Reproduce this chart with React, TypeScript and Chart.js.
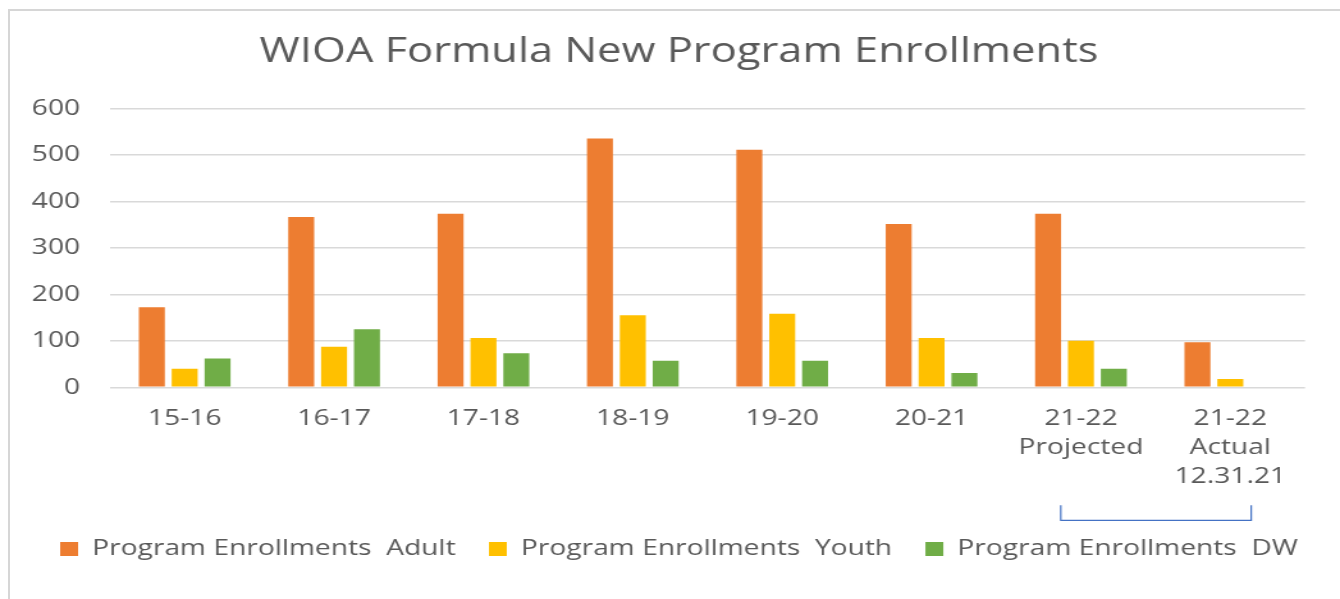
import React, { useEffect, useRef } from "react";
import { Chart, registerables } from "chart.js";

Chart.register(...registerables);

const categories: (string | string[])[] = [
  "15-16",
  "16-17",
  "17-18",
  "18-19",
  "19-20",
  "20-21",
  ["21-22", "Projected"],
  ["21-22", "Actual", "12.31.21"],
];
const adult: (number | null)[] = [172, 366, 373, 535, 511, 351, 373, 97];
const youth: (number | null)[] = [40, 87, 106, 155, 158, 106, 100, 18];
const dw: (number | null)[] = [62, 125, 73, 57, 57, 31, 40, null];
const seriesNames = [
  "Program Enrollments  Adult",
  "Program Enrollments  Youth",
  "Program Enrollments  DW",
];
const colors = ["#ED7D31", "#FFC000", "#70AD47"];
const yTicks = [0, 100, 200, 300, 400, 500, 600];

const PAGE_W = 1340;
const PAGE_H = 599;
const STRETCH = 1.28;
const CW = Math.round(PAGE_W / STRETCH);
const SX = PAGE_W / CW;
const TEXT = "#595959";
const FONT = "'Open Sans', 'Noto Sans', sans-serif";

const bracketPlugin = {
  id: "bracket",
  afterDraw(chart: any) {
    const x = chart.scales.x;
    const area = chart.chartArea;
    const catW = (x.right - x.left) / categories.length;
    const x1 = x.getPixelForValue(6) - 0.135 * catW;
    const x2 = x.getPixelForValue(7) + 0.14 * catW;
    const yTop = area.bottom + 118;
    const yBot = area.bottom + 133;
    const ctx = chart.ctx;
    ctx.save();
    ctx.strokeStyle = "#4472C4";
    ctx.lineWidth = 1.2;
    ctx.beginPath();
    ctx.moveTo(x1, yTop);
    ctx.lineTo(x1, yBot);
    ctx.lineTo(x2, yBot);
    ctx.lineTo(x2, yTop);
    ctx.stroke();
    ctx.restore();
  },
};

export default function App() {
  const ref = useRef<HTMLCanvasElement>(null);
  useEffect(() => {
    if (!ref.current) return;
    const data = [adult, youth, dw];
    const chart = new Chart(ref.current, {
      type: "bar",
      data: {
        labels: categories,
        datasets: data.map((d, i) => ({
          label: seriesNames[i],
          data: d,
          backgroundColor: colors[i],
          borderWidth: 0,
          categoryPercentage: 0.66,
          barPercentage: 0.79,
        })),
      },
      options: {
        animation: false,
        responsive: false,
        maintainAspectRatio: false,
        devicePixelRatio: 1,
        layout: { padding: { left: 18 / SX, right: 0, top: 0, bottom: 29 } },
        plugins: {
          title: {
            display: true,
            text: "WIOA Formula New Program Enrollments",
            color: TEXT,
            font: { family: FONT, size: 34, weight: "normal", lineHeight: 1.2 },
            padding: { top: 32, bottom: 35.5 },
          },
          legend: {
            position: "bottom",
            labels: {
              color: TEXT,
              font: { family: FONT, size: 22 },
              boxWidth: 14,
              boxHeight: 14,
              padding: 26,
            },
          },
          tooltip: { enabled: false },
        },
        scales: {
          x: {
            grid: { display: false, drawTicks: false },
            border: { display: false },
            ticks: {
              color: TEXT,
              font: { family: FONT, size: 22, lineHeight: 29 / 22 },
              padding: 17,
              maxRotation: 0,
              autoSkip: false,
            },
            afterFit(s: any) {
              s.height = 124.7;
            },
          },
          y: {
            min: 0,
            max: 600,
            afterBuildTicks(s: any) {
              s.ticks = yTicks.map((v) => ({ value: v }));
            },
            grid: { color: "#d9d9d9", lineWidth: 1.6, drawTicks: false },
            border: { display: false },
            ticks: {
              color: TEXT,
              font: { family: FONT, size: 22 },
              padding: 23.4,
            },
            afterFit(s: any) {
              s.width = 110 / SX - 18 / SX;
            },
          },
          yr: {
            position: "right",
            display: true,
            grid: { display: false, drawTicks: false },
            border: { display: false },
            ticks: { display: false },
            afterFit(s: any) {
              s.width = (PAGE_W - 1305) / SX;
            },
          },
        },
      },
      plugins: [bracketPlugin],
    } as any);
    return () => chart.destroy();
  }, []);

  return (
    <div
      style={{
        position: "absolute",
        left: 0,
        top: 0,
        width: PAGE_W,
        height: PAGE_H,
        overflow: "hidden",
        background: "#ffffff",
      }}
    >
      <div
        style={{
          position: "absolute",
          left: 8,
          top: 9,
          width: 1400,
          height: 700,
          border: "2px solid #d6d6d6",
        }}
      />
      <div
        style={{
          position: "absolute",
          left: 0,
          top: 0,
          width: CW,
          height: PAGE_H,
          transform: `scaleX(${SX})`,
          transformOrigin: "0 0",
        }}
      >
        <canvas ref={ref} width={CW} height={PAGE_H} style={{ width: CW, height: PAGE_H }} />
      </div>
    </div>
  );
}
